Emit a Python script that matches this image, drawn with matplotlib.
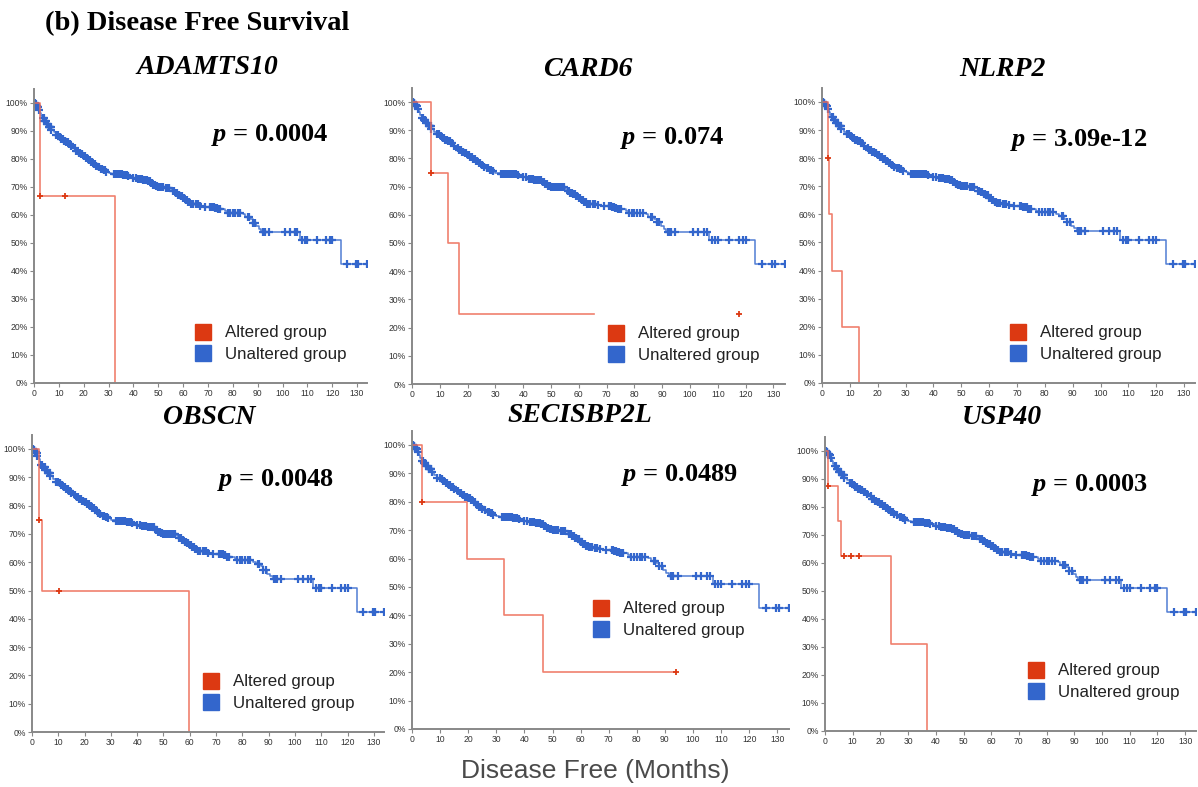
import numpy as np
import matplotlib
matplotlib.use('Agg')
import matplotlib.pyplot as plt
from matplotlib.lines import Line2D
from matplotlib.ticker import FuncFormatter

plt.rcParams['mathtext.fontset'] = 'custom'
plt.rcParams['mathtext.it'] = 'Liberation Serif:bold:italic'
plt.rcParams['mathtext.rm'] = 'Liberation Serif:bold'

# unaltered group (same cohort in every panel), months vs % disease free
unalt_t = [0, 0.5, 1, 1.5, 2, 2.5, 3, 3.5, 4, 5, 6, 7, 8, 9, 10, 11, 12, 13, 14, 15,
           16, 17, 18, 19, 20, 21, 22, 23, 24, 25, 26, 27, 28, 29, 30, 31, 32, 36, 38,
           40, 42, 44, 46, 47, 48, 49, 50, 53, 55, 56, 57, 58, 59, 60, 61, 62, 63, 65,
           67, 68, 72, 73, 74, 77, 78, 84, 85, 87, 88, 89.5, 90.5, 91.5, 107, 123.5, 134]
unalt_s = [100, 99.5, 99, 98.5, 97.5, 96.5, 95.5, 94.5, 93.5, 92.5, 91.5, 90.5, 89.5,
           88.5, 88, 87.3, 86.5, 86, 85.3, 84.5, 83.8, 83, 82.3, 81.8, 81.2, 80.5, 79.8,
           79, 78.3, 77.5, 77, 76.5, 76, 75.5, 75, 74.8, 74.5, 74.3, 74, 73.3, 72.8, 72.5,
           72.3, 71.5, 70.8, 70.3, 70, 69.8, 69.3, 68.5, 67.8, 67.3, 66.8, 66, 65.3, 64.5,
           64, 63.8, 63.3, 63, 62.8, 62.5, 62, 61.3, 60.7, 60.2, 59.3, 58.5, 57.3, 56, 55,
           54, 51, 42.5, 42.5]
unalt_cens = [0.2, 0.4, 0.6, 0.8, 1, 1.2, 1.4, 1.6, 1.8, 2, 3.6, 3.9, 4.2, 4.5, 4.8, 5.1,
              5.4, 5.7, 6, 6.2, 6.4, 6.6, 6.8, 7, 9, 9.8, 10.5, 11, 11.5, 12, 12.5, 13,
              13.5, 14, 14.5, 15, 16.5, 17, 17.5, 18, 18.5, 19, 19.5, 20, 20.5, 21, 21.5,
              22, 22.5, 23, 23.5, 24, 24.5, 25, 26, 27, 27.5, 28, 28.5, 29, 32, 32.5, 33,
              33.5, 34, 34.5, 35, 35.5, 36, 36.5, 37, 37.5, 38, 40, 41, 42, 42.5, 43, 43.5,
              44, 44.5, 45, 45.5, 46, 46.5, 47, 47.5, 48, 48.5, 49, 49.5, 50, 50.5, 51,
              51.5, 52, 53, 53.5, 54, 54.5, 56, 56.5, 57, 57.5, 58, 58.5, 59, 59.5, 60,
              60.5, 61, 61.5, 62, 62.5, 63, 63.5, 64, 65, 65.5, 66, 67, 69, 71, 71.5, 72,
              72.5, 73, 73.5, 74, 74.5, 75, 78, 79, 80, 81, 82, 83, 86, 86.5, 88, 89, 92,
              92.5, 93, 94.5, 101, 103, 105, 106, 108, 109, 110, 114, 117.5, 119, 120, 126,
              129.5, 130.5, 134]

genes = ['ADAMTS10', 'CARD6', 'NLRP2', 'OBSCN', 'SECISBP2L', 'USP40']
pvals = ['0.0004', '0.074', '3.09e-12', '0.0048', '0.0489', '0.0003']

alt_t = [[0, 2.3, 32.5],
         [0, 6.8, 13.1, 17, 65.5],
         [0, 2.2, 2.4, 3.6, 7.3, 13.2],
         [0, 2.5, 3.7, 59.6],
         [0, 3.7, 19.7, 32.6, 46.7, 94],
         [0, 1.0, 4.7, 5.7, 24, 36.9]]
alt_s = [[100, 66.7, 0],
         [100, 75, 50, 25, 25],
         [100, 80, 60, 40, 20, 0],
         [100, 75, 50, 0],
         [100, 80, 60, 40, 20, 20],
         [100, 87.5, 75, 62.5, 31.25, 0]]
alt_cens = [[2.3, 12.3],
            [6.8, 117.6],
            [2.2],
            [2.5, 10.4],
            [3.7, 94],
            [1.0, 6.9, 9.5, 12.2]]

RED = '#dc3912'
BLUE = '#3366cc'
W, H = 1198, 787

# pixel layout: x of 0 months, px per month, y of 0%, px per %
boxes = [(34, 2.485, 383, 2.80), (412, 2.78, 384, 2.82), (822, 2.785, 383, 2.81),
         (32, 2.63, 732, 2.83), (412, 2.81, 729, 2.84), (825, 2.77, 731, 2.80)]
title_xy = [(207, 68), (588, 70), (1002, 70), (209, 417), (580, 416), (1002, 418)]
p_xy = [(95, 88.6), (93.5, 87.2), (92, 86.5), (92.4, 89), (95, 89.4), (95.3, 87.9)]
leg_xy = [(187, 327), (600, 328), (1002, 327), (195, 676), (585, 603), (1020, 665)]

XMAX, YMAX = 134, 105


def step_val(t, s, c):
    i = np.searchsorted(t, c, side='right') - 1
    return np.asarray(s)[i]


fig = plt.figure(figsize=(W / 100, H / 100), dpi=100)

for k in range(6):
    x0, sx, y0, sy = boxes[k]
    ax = fig.add_axes([x0 / W, 1 - y0 / H, XMAX * sx / W, YMAX * sy / H])

    ax.step(unalt_t, unalt_s, where='post', color=BLUE, lw=1.1, alpha=0.85)
    ax.plot(unalt_cens, step_val(unalt_t, unalt_s, unalt_cens), ls='none',
            marker='+', ms=5.5, mew=1.6, color=BLUE)

    ax.step(alt_t[k], alt_s[k], where='post', color='#ee6a55', lw=1.2, alpha=0.85)
    ax.plot(alt_cens[k], step_val(alt_t[k], alt_s[k], alt_cens[k]), ls='none',
            marker='+', ms=5, mew=1.3, color=RED)

    ax.set_xlim(0, XMAX)
    ax.set_ylim(0, YMAX)
    ax.set_xticks(np.arange(0, 131, 10))
    ax.set_yticks(np.arange(0, 101, 10))
    ax.yaxis.set_major_formatter(FuncFormatter(lambda v, pos: '%d%%' % v))
    ax.tick_params(labelsize=6.2, labelcolor='#333333', length=3, width=0.8,
                   color='#888888', pad=1.5)
    for lab in ax.get_xticklabels() + ax.get_yticklabels():
        lab.set_family('Liberation Sans')
    for side in ['top', 'right']:
        ax.spines[side].set_visible(False)
    for side in ['left', 'bottom']:
        ax.spines[side].set_color('#888888')
        ax.spines[side].set_linewidth(1.4)

    ax.text(p_xy[k][0], p_xy[k][1], r'$p$ = ' + pvals[k], ha='center', va='center',
            family='Liberation Serif', fontweight='bold', fontsize=19)

    handles = [Line2D([], [], ls='none', marker='s', ms=11, color=RED),
               Line2D([], [], ls='none', marker='s', ms=11, color=BLUE)]
    lx, ly = leg_xy[k]
    leg = ax.legend(handles, ['Altered group', 'Unaltered group'], loc='upper left',
                    bbox_to_anchor=((lx - 1) / W, 1 - (ly - 10) / H),
                    bbox_transform=fig.transFigure, frameon=True, framealpha=1,
                    facecolor='white', edgecolor='none', borderpad=0,
                    handlelength=1.0, handletextpad=0.8, labelspacing=0.38,
                    prop={'family': 'Liberation Sans', 'size': 12.2})
    for txt in leg.get_texts():
        txt.set_color('#222222')

    tx, ty = title_xy[k]
    fig.text(tx / W, 1 - ty / H, genes[k], ha='center', va='center',
             family='Liberation Serif', fontweight='bold', style='italic', fontsize=20)

fig.text(45 / W, 1 - 24 / H, '(b) Disease Free Survival', ha='left', va='center',
         family='Liberation Serif', fontweight='bold', fontsize=20.5)
fig.text(595 / W, 1 - 771 / H, 'Disease Free (Months)', ha='center', va='center',
         family='Liberation Sans', fontsize=19, color='#4a4a4a')

fig.savefig('out.png', dpi=100)
